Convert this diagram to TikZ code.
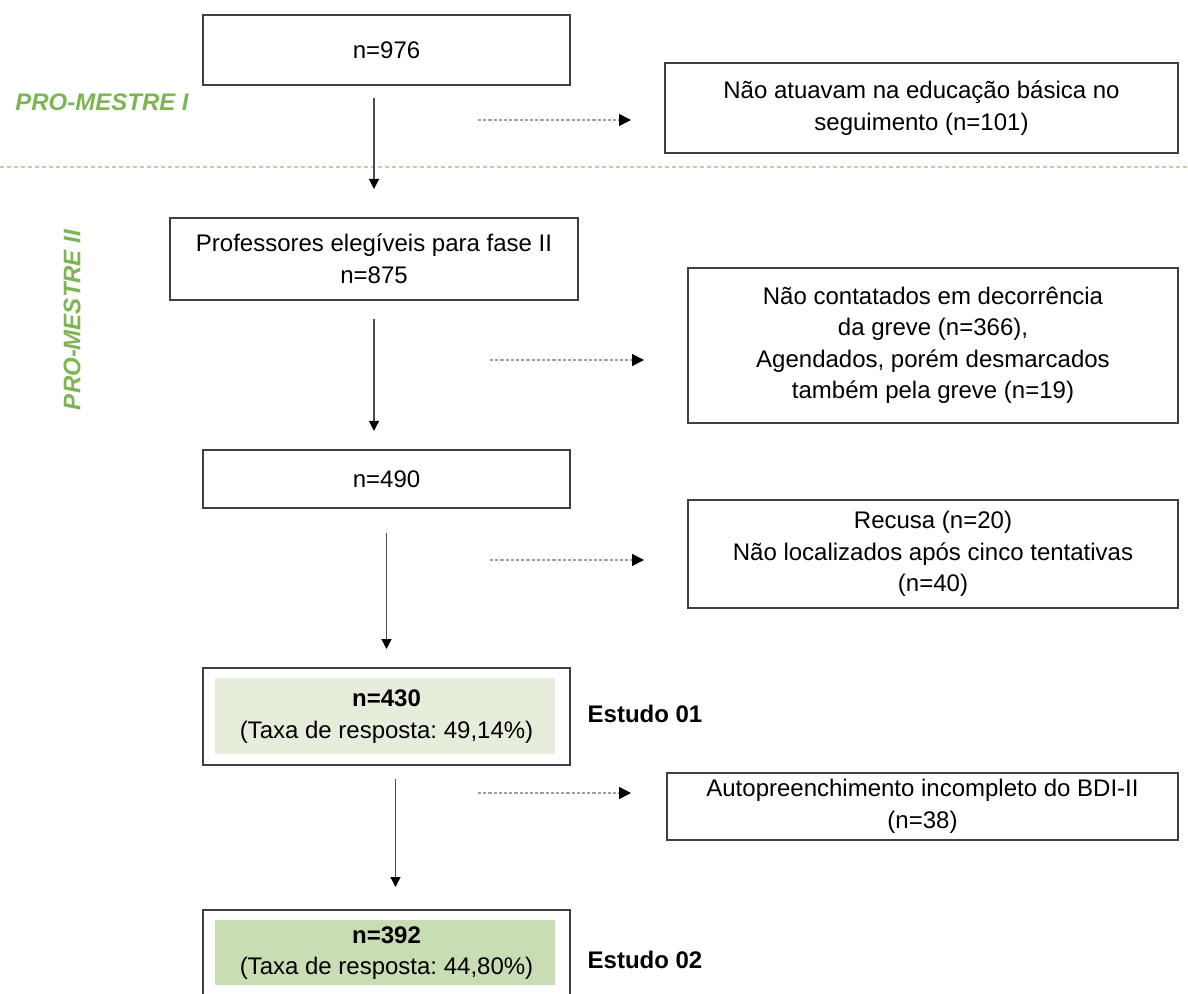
\documentclass[tikz,border=0pt]{standalone}
\usepackage{fontspec}
\setmainfont{Liberation Sans}
\frenchspacing
\usetikzlibrary{arrows.meta}
\definecolor{pmgreen}{HTML}{7DB553}
\definecolor{sepgreen}{HTML}{B9D7A2}
\definecolor{fillone}{HTML}{E6EEDB}
\definecolor{filltwo}{HTML}{C9DDB5}

\begin{document}
\begin{tikzpicture}[x=0.5pt,y=-0.5pt,
  box/.style={draw=black!75,line width=1pt,align=center,inner sep=0pt,
    font=\fontsize{12pt}{15.75pt}\selectfont},
  greenbox/.style={box,path picture={\fill[#1]
    ([shift={(12,10)}]path picture bounding box.north west) rectangle
    ([shift={(-15,-11)}]path picture bounding box.south east);}},
  phase/.style={text=pmgreen,font=\fontsize{12pt}{14pt}\selectfont\bfseries\itshape},
  study/.style={font=\fontsize{12pt}{14pt}\selectfont\bfseries},
  flow/.style={-{Triangle[width=5pt,length=5pt,color=black]},black!70,line width=0.6pt},
  loss/.style={-{Triangle[width=6pt,length=6pt,color=black,sep=0pt]},gray!75,line width=0.8pt,
    dash pattern=on 1.6pt off 1pt}]
  \useasboundingbox (0,0) rectangle (1188,994);
  \clip (0,0) rectangle (1188,994);

  % phase separator
  \draw[sepgreen,line width=1pt,dash pattern=on 2pt off 1.5pt] (0,167) -- (1188,167);
  \node[phase] (pmone) at (102,102) {PRO-MESTRE I};
  \node[phase,rotate=90] (pmtwo) at (72,320) {PRO-MESTRE II};

  % main column
  \node[box,minimum width=183.5pt,minimum height=35pt] (n976) at (386.5,50) {n=976};
  \node[box,minimum width=204pt,minimum height=41pt] (elig) at (374,259)
    {Professores elegíveis para fase II\\n=875};
  \node[box,minimum width=183.5pt,minimum height=29pt] (n490) at (386.5,479) {n=490};
  \node[greenbox=fillone,minimum width=183.5pt,minimum height=48.5pt] (n430) at (386.5,716.5)
    {\textbf{n=430}\\(Taxa de resposta: 49,14\%)};
  \node[greenbox=filltwo,minimum width=183.5pt,minimum height=43pt] (n392) at (386.5,953)
    {\textbf{n=392}\\(Taxa de resposta: 44,80\%)};
  \node[study] (est1) at (645,714) {Estudo 01};
  \node[study] (est2) at (645,960) {Estudo 02};

  % exclusions
  \node[box,minimum width=256.5pt,minimum height=45pt] (naoatu) at (921.5,108)
    {Não atuavam na educação básica no\\seguimento (n=101)};
  \node[box,minimum width=245pt,minimum height=77.5pt] (naocont) at (933,345.5)
    {Não contatados em decorrência\\da greve (n=366),\\Agendados, porém desmarcados\\também pela greve (n=19)};
  \node[box,minimum width=245pt,minimum height=54pt] (recusa) at (933,554)
    {Recusa (n=20)\\Não localizados após cinco tentativas\\(n=40)};
  \node[box,minimum width=255.5pt,minimum height=33.5pt] (autop) at (922.5,806.5)
    {Autopreenchimento incompleto do BDI-II\\(n=38)};

  \draw[flow,shorten <=6pt,shorten >=14pt] (n976.south -| elig.north) -- (elig.north);
  \draw[flow,shorten <=9pt,shorten >=9pt] (elig.south) -- (elig.south |- n490.north);
  \draw[flow,shorten <=12pt,shorten >=9pt] (n490.south) -- (n430.north);
  \draw[flow,shorten <=6.5pt,shorten >=11pt] ([xshift=4.5pt]n430.south) -- ([xshift=4.5pt]n392.north);

  \coordinate (dA) at (478,120);
  \coordinate (dB) at (490,360);
  \coordinate (dC) at (490,560);
  \coordinate (dD) at (478,793);
  \draw[loss,shorten >=16.5pt] (dA) -- (dA -| naoatu.west);
  \draw[loss,shorten >=21.5pt] (dB) -- (dB -| naocont.west);
  \draw[loss,shorten >=21.5pt] (dC) -- (dC -| recusa.west);
  \draw[loss,shorten >=17.5pt] (dD) -- (dD -| autop.west);
\end{tikzpicture}
\end{document}
